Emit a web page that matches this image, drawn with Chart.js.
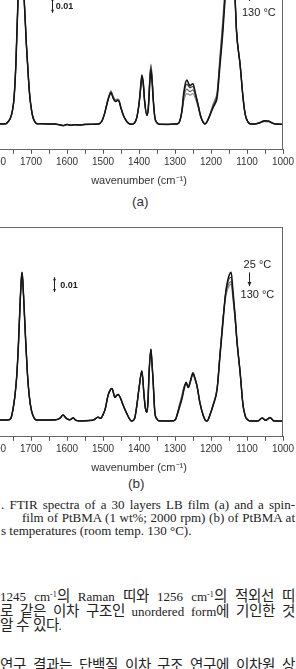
<!DOCTYPE html>
<html>
<head>
<meta charset="utf-8">
<script src="https://cdn.jsdelivr.net/npm/chart.js@4.4.0/dist/chart.umd.min.js"></script>
<style>
@font-face {
    font-family: "KRwide";
    src: local("Noto Sans CJK KR"), local("NotoSansCJKkr-Regular"), local("Noto Sans CJK KR Regular");
    size-adjust: 112%;
    unicode-range: U+1100-11FF, U+3130-318F, U+AC00-D7AF;
}
html, body { margin: 0; padding: 0; background: #fff; }
body { width: 296px; height: 669px; overflow: hidden; position: relative; }
canvas { position: absolute; left: -30px; }
.lbl { position: absolute; font-family: "Liberation Sans", Arial, sans-serif; font-size: 13.5px; color: #333; line-height: 14px; }
.txt { position: absolute; font-family: "Liberation Serif", "KRwide", "Noto Sans CJK KR", serif; font-size: 13px; line-height: 14px; color: #222; white-space: nowrap; }
.sup { font-size: 8px; vertical-align: 4px; line-height: 0; }
</style>
</head>
<body>
<canvas id="chartA" width="338" height="248" style="top:-60px"></canvas>
<canvas id="chartB" width="338" height="248" style="top:227px"></canvas>

<div class="lbl" style="left:132px; top:195px">(a)</div>
<div class="lbl" style="left:128px; top:477px">(b)</div>

<div class="txt" data-w="294" style="left:1px; top:498px">. FTIR spectra of a 30 layers LB film (a) and a spin-</div>
<div class="txt" data-w="273" style="left:22px; top:511px">film of PtBMA (1 wt%; 2000 rpm) (b) of PtBMA at</div>
<div class="txt" style="left:1px; top:524px">s temperatures (room temp. 130 &#176;C).</div>

<div class="txt" data-w="295" style="left:0px; top:590px">1245 cm<span class="sup">-1</span>의 Raman 띠와 1256 cm<span class="sup">-1</span>의 적외선 띠</div>
<div class="txt" data-w="295" style="left:0px; top:605px">로 같은 이차 구조인 unordered form에 기인한 것</div>
<div class="txt" style="left:0px; top:619px">알 수 있다.</div>
<div class="txt" data-w="295" style="left:0px; top:659px">연구 결과는 단백질 이차 구조 연구에 이차원 상</div>

<script>
// (a) LB film, 30 layers
var waveA = [1820, 1790, 1770, 1762, 1758, 1752, 1747, 1742, 1736, 1732, 1728, 1724, 1719, 1713, 1707, 1703, 1698, 1694, 1690, 1684,
    1670, 1650, 1635, 1620, 1610, 1600, 1590, 1580, 1565, 1550, 1530, 1512, 1503, 1495, 1488, 1482, 1478, 1472, 1466, 1460,
    1456, 1450, 1443, 1435, 1428, 1420, 1412, 1406, 1400, 1395, 1392, 1388, 1384, 1378, 1374, 1370, 1367, 1364, 1360, 1356,
    1350, 1343, 1320, 1300, 1290, 1284, 1280, 1276, 1271, 1267, 1262, 1258, 1254, 1250, 1244, 1236, 1229, 1222, 1217, 1211,
    1203, 1194, 1189, 1183, 1175, 1167, 1161, 1152, 1145, 1138, 1133, 1129, 1119, 1111, 1105, 1097, 1090, 1080, 1065, 1052,
    1040, 1030, 1020, 1000];
var a25 = [0.0173, 0.0175, 0.0176, 0.0195, 0.021, 0.026, 0.0353, 0.058, 0.102, 0.118, 0.124, 0.118, 0.102, 0.072, 0.048, 0.0353, 0.026, 0.0215, 0.0193, 0.0177,
    0.0177, 0.0174, 0.0175, 0.0168, 0.0164, 0.0172, 0.0166, 0.0170, 0.0168, 0.0172, 0.0173, 0.0175, 0.0195, 0.025, 0.032, 0.0367, 0.0387, 0.035, 0.0327, 0.0333,
    0.033, 0.028, 0.023, 0.0195, 0.0178, 0.0173, 0.0183, 0.022, 0.031, 0.044, 0.0507, 0.045, 0.032, 0.0233, 0.028, 0.045, 0.054, 0.047, 0.032, 0.022,
    0.0183, 0.0173, 0.0172, 0.0174, 0.0180, 0.022, 0.028, 0.038, 0.0453, 0.0473, 0.0447, 0.0433, 0.0443, 0.0447, 0.039, 0.0307, 0.023, 0.0187, 0.0175, 0.019,
    0.0233, 0.0287, 0.031, 0.0353, 0.0573, 0.08, 0.102, 0.128, 0.137, 0.128, 0.102, 0.08, 0.0573, 0.0353, 0.024, 0.0187, 0.0175, 0.0174, 0.0183, 0.0197,
    0.0195, 0.0182, 0.0174, 0.0173];
var a60 = [0.0173, 0.0175, 0.0176, 0.0195, 0.021, 0.026, 0.0353, 0.058, 0.102, 0.118, 0.124, 0.118, 0.102, 0.072, 0.048, 0.0353, 0.026, 0.0215, 0.0193, 0.0177,
    0.0177, 0.0174, 0.0175, 0.0168, 0.0164, 0.0172, 0.0166, 0.0170, 0.0168, 0.0172, 0.0173, 0.0175, 0.0195, 0.025, 0.032, 0.037, 0.039, 0.0355, 0.033, 0.0335,
    0.033, 0.028, 0.023, 0.0195, 0.0178, 0.0173, 0.0183, 0.022, 0.031, 0.043, 0.050, 0.045, 0.032, 0.0233, 0.029, 0.047, 0.056, 0.049, 0.033, 0.022,
    0.0183, 0.0173, 0.0172, 0.0174, 0.0180, 0.022, 0.028, 0.037, 0.043, 0.0445, 0.043, 0.042, 0.0425, 0.043, 0.0385, 0.0307, 0.023, 0.0187, 0.0175, 0.019,
    0.0235, 0.0295, 0.032, 0.037, 0.060, 0.083, 0.104, 0.129, 0.138, 0.128, 0.102, 0.08, 0.0573, 0.0353, 0.024, 0.0187, 0.0175, 0.0174, 0.0183, 0.0195,
    0.0193, 0.0182, 0.0174, 0.0173];
var a95 = [0.0173, 0.0175, 0.0176, 0.0195, 0.021, 0.026, 0.0353, 0.058, 0.102, 0.118, 0.124, 0.118, 0.102, 0.072, 0.048, 0.0353, 0.026, 0.0215, 0.0193, 0.0177,
    0.0177, 0.0174, 0.0175, 0.0168, 0.0164, 0.0172, 0.0166, 0.0170, 0.0168, 0.0172, 0.0173, 0.0175, 0.0195, 0.025, 0.0325, 0.0373, 0.0393, 0.036, 0.0335, 0.034,
    0.0335, 0.0285, 0.023, 0.0195, 0.0178, 0.0173, 0.0183, 0.022, 0.031, 0.042, 0.049, 0.044, 0.032, 0.0233, 0.029, 0.048, 0.057, 0.050, 0.033, 0.022,
    0.0183, 0.0173, 0.0172, 0.0174, 0.0180, 0.022, 0.027, 0.035, 0.040, 0.041, 0.040, 0.0395, 0.040, 0.0405, 0.037, 0.030, 0.023, 0.0187, 0.0175, 0.019,
    0.0237, 0.030, 0.033, 0.038, 0.062, 0.086, 0.107, 0.131, 0.139, 0.128, 0.102, 0.08, 0.0573, 0.0353, 0.024, 0.0187, 0.0175, 0.0174, 0.0182, 0.0192,
    0.0191, 0.0181, 0.0174, 0.0173];
var a130 = [0.0173, 0.0175, 0.0176, 0.0195, 0.021, 0.026, 0.0353, 0.058, 0.102, 0.118, 0.124, 0.118, 0.102, 0.072, 0.048, 0.0353, 0.026, 0.0215, 0.0193, 0.0177,
    0.0177, 0.0174, 0.0175, 0.0168, 0.0164, 0.0172, 0.0166, 0.0170, 0.0168, 0.0172, 0.0173, 0.0175, 0.0195, 0.0255, 0.033, 0.0377, 0.040, 0.0365, 0.034, 0.0345,
    0.034, 0.029, 0.0233, 0.0195, 0.0178, 0.0173, 0.0183, 0.022, 0.030, 0.041, 0.048, 0.043, 0.031, 0.0233, 0.030, 0.049, 0.058, 0.051, 0.034, 0.022,
    0.0183, 0.0173, 0.0172, 0.0174, 0.0180, 0.022, 0.026, 0.033, 0.037, 0.038, 0.0375, 0.037, 0.0375, 0.038, 0.035, 0.029, 0.0225, 0.0187, 0.0175, 0.019,
    0.024, 0.031, 0.034, 0.039, 0.064, 0.089, 0.110, 0.132, 0.140, 0.128, 0.102, 0.08, 0.0573, 0.0353, 0.024, 0.0187, 0.0175, 0.0174, 0.0182, 0.019,
    0.019, 0.0181, 0.0174, 0.0173];

// (b) spin-coated film
var waveB = [1820, 1790, 1765, 1756, 1750, 1745, 1740, 1735, 1730, 1727, 1725, 1723, 1720, 1715, 1710, 1705, 1699, 1692, 1685, 1660,
    1632, 1620, 1611, 1602, 1592, 1583, 1575, 1560, 1540, 1525, 1514, 1506, 1500, 1494, 1486, 1479, 1475, 1467, 1462, 1458,
    1452, 1447, 1440, 1433, 1426, 1420, 1412, 1406, 1399, 1392, 1386, 1382, 1378, 1375, 1372, 1367, 1364, 1361, 1356, 1350,
    1345, 1320, 1305, 1298, 1294, 1288, 1281, 1275, 1269, 1263, 1257, 1250, 1245, 1239, 1231, 1222, 1216, 1211, 1203, 1194,
    1183, 1175, 1167, 1160, 1156, 1150, 1144, 1139, 1133, 1128, 1119, 1111, 1104, 1100, 1092, 1070, 1058, 1048, 1036, 1025,
    1000];
var b25 = [0.0113, 0.0113, 0.0114, 0.0125, 0.0187, 0.027, 0.040, 0.062, 0.092, 0.106, 0.1113, 0.106, 0.092, 0.066, 0.043, 0.028, 0.018, 0.013, 0.0113, 0.0113,
    0.0115, 0.0125, 0.0147, 0.0125, 0.0115, 0.0128, 0.0111, 0.0107, 0.0110, 0.0115, 0.0133, 0.0125, 0.0150, 0.0187, 0.028, 0.032, 0.0327, 0.0267, 0.0280, 0.0287,
    0.0265, 0.0233, 0.019, 0.0153, 0.0120, 0.0107, 0.0125, 0.0213, 0.0347, 0.0447, 0.028, 0.019, 0.0167, 0.024, 0.0433, 0.0593, 0.050, 0.0387, 0.0167, 0.012,
    0.0108, 0.0107, 0.0108, 0.0120, 0.0147, 0.0195, 0.0253, 0.032, 0.0367, 0.0333, 0.038, 0.0433, 0.040, 0.0347, 0.0233, 0.0147, 0.0113, 0.0107, 0.0147, 0.0213,
    0.032, 0.0547, 0.0767, 0.096, 0.103, 0.109, 0.1113, 0.0987, 0.082, 0.0653, 0.0433, 0.0213, 0.0135, 0.012, 0.0107, 0.0107, 0.0127, 0.0112, 0.013, 0.0107,
    0.0107];
var b60 = [0.0113, 0.0113, 0.0114, 0.0125, 0.0187, 0.027, 0.040, 0.062, 0.092, 0.106, 0.1113, 0.106, 0.092, 0.066, 0.043, 0.028, 0.018, 0.013, 0.0113, 0.0113,
    0.0115, 0.0125, 0.0147, 0.0125, 0.0115, 0.0128, 0.0111, 0.0107, 0.0110, 0.0115, 0.0133, 0.0125, 0.0150, 0.0187, 0.028, 0.032, 0.0327, 0.0267, 0.0280, 0.0287,
    0.0265, 0.0233, 0.019, 0.0153, 0.0120, 0.0107, 0.0125, 0.0213, 0.0347, 0.0447, 0.028, 0.019, 0.0167, 0.024, 0.0433, 0.0593, 0.050, 0.0387, 0.0167, 0.012,
    0.0108, 0.0107, 0.0108, 0.0120, 0.0150, 0.0205, 0.026, 0.033, 0.037, 0.034, 0.038, 0.043, 0.040, 0.0347, 0.0233, 0.0147, 0.0113, 0.0107, 0.0147, 0.0215,
    0.0325, 0.0555, 0.078, 0.096, 0.102, 0.107, 0.108, 0.097, 0.081, 0.0653, 0.0433, 0.0213, 0.0135, 0.012, 0.0107, 0.0107, 0.0127, 0.0112, 0.013, 0.0107,
    0.0107];
var b95 = [0.0113, 0.0113, 0.0114, 0.0125, 0.0187, 0.027, 0.040, 0.062, 0.092, 0.106, 0.111, 0.106, 0.092, 0.066, 0.043, 0.028, 0.018, 0.013, 0.0113, 0.0113,
    0.0115, 0.0125, 0.0147, 0.0125, 0.0115, 0.0128, 0.0111, 0.0107, 0.0110, 0.0115, 0.0133, 0.0125, 0.0150, 0.0187, 0.028, 0.032, 0.0327, 0.0267, 0.0280, 0.0287,
    0.0265, 0.0233, 0.019, 0.0153, 0.0120, 0.0107, 0.0125, 0.0213, 0.0345, 0.0443, 0.028, 0.019, 0.0167, 0.024, 0.0433, 0.059, 0.050, 0.0387, 0.0167, 0.012,
    0.0108, 0.0107, 0.0108, 0.0120, 0.0153, 0.021, 0.027, 0.0335, 0.036, 0.0335, 0.0375, 0.0425, 0.0395, 0.0345, 0.0233, 0.0147, 0.0113, 0.0107, 0.0148, 0.0218,
    0.033, 0.056, 0.079, 0.095, 0.100, 0.104, 0.105, 0.095, 0.080, 0.065, 0.0433, 0.0213, 0.0135, 0.012, 0.0107, 0.0107, 0.0126, 0.0112, 0.0128, 0.0107,
    0.0107];
var b130 = [0.0113, 0.0113, 0.0114, 0.0125, 0.0187, 0.027, 0.040, 0.062, 0.092, 0.106, 0.1105, 0.106, 0.092, 0.066, 0.043, 0.028, 0.018, 0.013, 0.0113, 0.0113,
    0.0115, 0.0125, 0.0147, 0.0125, 0.0115, 0.0128, 0.0111, 0.0107, 0.0110, 0.0115, 0.0133, 0.0125, 0.0150, 0.0187, 0.028, 0.032, 0.0327, 0.0267, 0.0280, 0.0287,
    0.0265, 0.0233, 0.019, 0.0153, 0.0120, 0.0107, 0.0125, 0.0213, 0.0343, 0.044, 0.028, 0.019, 0.0167, 0.024, 0.0433, 0.0585, 0.050, 0.0387, 0.0167, 0.012,
    0.0108, 0.0107, 0.0108, 0.0120, 0.0155, 0.0215, 0.028, 0.034, 0.0355, 0.0335, 0.037, 0.042, 0.039, 0.0343, 0.0233, 0.0147, 0.0113, 0.0107, 0.015, 0.022,
    0.0335, 0.057, 0.080, 0.093, 0.098, 0.102, 0.1033, 0.093, 0.079, 0.0645, 0.0433, 0.0213, 0.0135, 0.012, 0.0107, 0.0107, 0.0126, 0.0112, 0.0128, 0.0107,
    0.0107];

var tempLabels = ['25 °C', '60 °C', '95 °C', '130 °C'];
var lineColors = ['#151515', '#3c3c3c', '#6a6a6a', '#8c8c8c'];

// box, scale bar (0.01) and temperature arrow
var figNotes = {
    id: 'figNotes',
    afterDraw: function(chart, args, opts) {
        var ctx = chart.ctx, a = chart.chartArea;
        var x = chart.scales.x, y = chart.scales.y;
        ctx.save();
        ctx.strokeStyle = '#666';
        ctx.lineWidth = 1;
        ctx.strokeRect(Math.round(a.left) + 0.5, Math.round(a.top) + 0.5, Math.round(a.right - a.left) - 1, Math.round(a.bottom - a.top) - 1);

        ctx.strokeStyle = '#222';
        ctx.fillStyle = '#222';
        // scale bar
        var sx = Math.round(x.getPixelForValue(opts.bar.x)) + 0.5;
        var y1 = y.getPixelForValue(opts.bar.top), y2 = y.getPixelForValue(opts.bar.bottom);
        ctx.beginPath();
        ctx.moveTo(sx, y1); ctx.lineTo(sx, y2); ctx.stroke();
        ctx.beginPath();
        ctx.moveTo(sx - 1.5, y1 + 3); ctx.lineTo(sx, y1); ctx.lineTo(sx + 1.5, y1 + 3); ctx.fill();
        ctx.beginPath();
        ctx.moveTo(sx - 1.5, y2 - 3); ctx.lineTo(sx, y2); ctx.lineTo(sx + 1.5, y2 - 3); ctx.fill();
        ctx.font = 'bold 9px "Liberation Sans", Arial, sans-serif';
        ctx.textAlign = 'left';
        ctx.textBaseline = 'middle';
        ctx.fillText('0.01', x.getPixelForValue(opts.bar.tx), y.getPixelForValue(opts.bar.ty));

        // temperature arrow
        var t = opts.temp;
        ctx.font = '11px "Liberation Sans", Arial, sans-serif';
        ctx.textAlign = 'center';
        ctx.fillText(t.first, x.getPixelForValue(t.tx), y.getPixelForValue(t.ty1));
        ctx.fillText(t.last, x.getPixelForValue(t.tx), y.getPixelForValue(t.ty2));
        var ax = Math.round(x.getPixelForValue(t.ax)) + 0.5;
        var ay1 = y.getPixelForValue(t.ay1), ay2 = y.getPixelForValue(t.ay2);
        ctx.beginPath();
        ctx.moveTo(ax, ay1); ctx.lineTo(ax, ay2); ctx.stroke();
        ctx.beginPath();
        ctx.moveTo(ax - 2, ay2 - 4); ctx.lineTo(ax, ay2); ctx.lineTo(ax + 2, ay2 - 4); ctx.fill();
        ctx.restore();
    }
};

function makeSpectrum(id, waves, series, notes) {
    var sets = [];
    for (var i = 0; i < series.length; i++) {
        var pts = [];
        for (var j = 0; j < waves.length; j++) {
            pts.push({ x: waves[j], y: series[i][j] });
        }
        sets.push({
            label: tempLabels[i],
            data: pts,
            borderColor: lineColors[i],
            borderWidth: i == 0 ? 1.5 : 1.2,
            pointRadius: 0,
            fill: false,
            cubicInterpolationMode: 'monotone'
        });
    }
    return new Chart(document.getElementById(id), {
        type: 'line',
        data: { datasets: sets },
        plugins: [figNotes],
        options: {
            responsive: false,
            animation: false,
            layout: { padding: { left: 25, right: 25, top: 0, bottom: 0 } },
            plugins: {
                legend: { display: false },
                tooltip: { enabled: false },
                figNotes: notes
            },
            scales: {
                x: {
                    type: 'linear',
                    reverse: true,
                    min: 1000,
                    max: 1800,
                    ticks: {
                        stepSize: 50,
                        autoSkip: false,
                        maxRotation: 0,
                        padding: 2,
                        color: '#333',
                        font: { family: 'Liberation Sans', size: 10 },
                        callback: function(v) { return v % 100 === 0 ? String(v) : ''; }
                    },
                    grid: { drawOnChartArea: false, drawTicks: true, tickLength: 4, color: '#555' },
                    border: { display: true, color: '#555' },
                    title: {
                        display: true,
                        text: 'wavenumber (cm⁻¹)',
                        color: '#333',
                        font: { family: 'Liberation Sans', size: 11 },
                        padding: { top: 5, bottom: 0 }
                    }
                },
                y: { display: false, min: 0, max: 0.142 }
            }
        }
    });
}

makeSpectrum('chartA', waveA, [a25, a60, a95, a130], {
    bar: { x: 1642, top: 0.103, bottom: 0.0927, tx: 1631, ty: 0.0967 },
    temp: { first: '25 °C', last: '130 °C', tx: 1067, ty1: 0.1123, ty2: 0.0927, ax: 1094, ay1: 0.110, ay2: 0.1007 }
});
makeSpectrum('chartB', waveB, [b25, b60, b95, b130], {
    bar: { x: 1637, top: 0.108, bottom: 0.098, tx: 1619, ty: 0.1027 },
    temp: { first: '25 °C', last: '130 °C', tx: 1071, ty1: 0.116, ty2: 0.0963, ax: 1094, ay1: 0.1113, ay2: 0.102 }
});

// stretch text lines to the measured column width
function fitLines() {
    var lines = document.querySelectorAll('[data-w]');
    for (var k = 0; k < lines.length; k++) {
        var el = lines[k];
        el.style.wordSpacing = '0px';
        var target = Number(el.getAttribute('data-w'));
        var gaps = el.textContent.split(' ').length - 1;
        var natural = el.getBoundingClientRect().width;
        if (gaps > 0) el.style.wordSpacing = ((target - natural) / gaps) + 'px';
    }
}
fitLines();
if (document.fonts && document.fonts.ready) document.fonts.ready.then(fitLines);
</script>
</body>
</html>
